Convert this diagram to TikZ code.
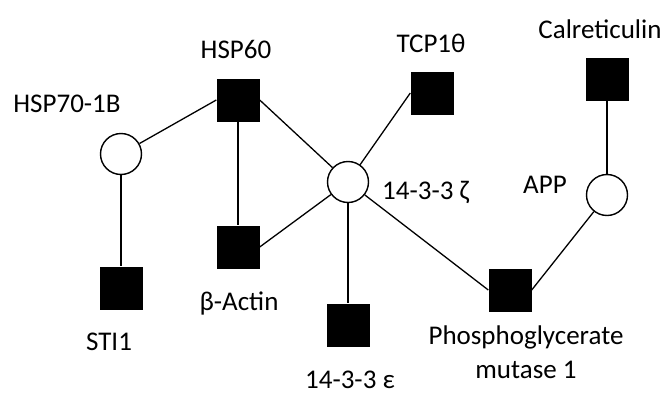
\documentclass[tikz,border=0pt]{standalone}
\usepackage{fontspec}
\setmainfont{Carlito}
\usetikzlibrary{positioning}

\tikzset{
  prot/.style={rectangle,fill=black,minimum size=43pt,inner sep=0pt},
  hub/.style={circle,draw=black,fill=white,line width=1.4pt,minimum size=41pt,inner sep=0pt},
  lbl/.style={font=\fontsize{27}{34}\selectfont,inner sep=0pt,anchor=base},
  link/.style={line width=1.3pt}
}

\begin{document}
\begin{tikzpicture}[x=1pt,y=-1pt]
  \useasboundingbox (0,0) rectangle (667,394);
  % proteins
  \node[hub]  (hsp70) at (121,154) {};
  \node[prot] (hsp60) at (238,100) {};
  \node[prot] (sti1)  at (121,288) {};
  \node[prot] (actin) at (238,247) {};
  \node[prot] (tcp)   at (432,93)  {};
  \node[hub]  (zeta)  at (348,182) {};
  \node[prot] (eps)   at (348,325) {};
  \node[prot] (pgm)   at (510,290) {};
  \node[hub]  (app)   at (607,195) {};
  \node[prot] (calr)  at (607,79)  {};
  % interactions
  \draw[link] (hsp70) -- (hsp60.west);
  \draw[link] (hsp70) -- (sti1);
  \draw[link] (hsp60) -- (actin);
  \draw[link] (hsp60.east) -- (zeta);
  \draw[link] (actin.east) -- (zeta);
  \draw[link] (tcp.west) -- (zeta);
  \draw[link] (zeta) -- (eps);
  \draw[link] (zeta) -- (pgm.west);
  \draw[link] (pgm.east) -- (app);
  \draw[link] (app) -- (calr);
  % names
  \node[lbl] (hsp70lab) at (67,112)  {HSP70-1B};
  \node[lbl] (hsp60lab) at (236,58)  {HSP60};
  \node[lbl] (sti1lab)  at (109,350) {STI1};
  \node[lbl] (actinlab) at (239,310) {β-Actin};
  \node[lbl] (tcplab)   at (431,52)  {TCP1θ};
  \node[lbl,anchor=base west] (zetalab) at (382,199) {14-3-3 ζ};
  \node[lbl] (epslab)   at (350,388) {14-3-3 ε};
  \node[lbl,anchor=north,align=center] (pgmlab) at (526,326) {Phosphoglycerate\\mutase 1};
  \node[lbl] (applab)   at (545,193) {APP};
  \node[lbl] (calrlab)  at (600,38)  {Calreticulin};
\end{tikzpicture}
\end{document}
